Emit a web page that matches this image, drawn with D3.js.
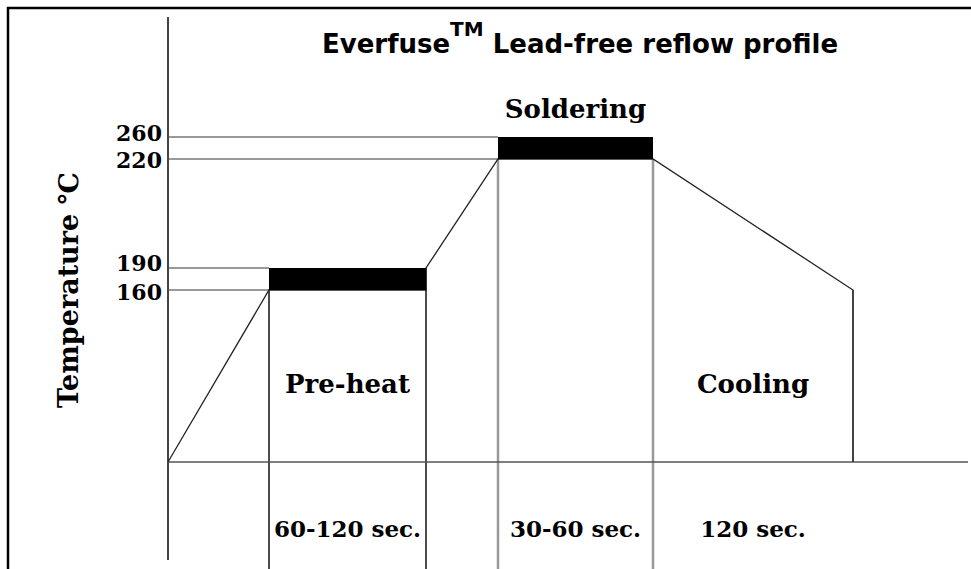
<!DOCTYPE html>
<html>
<head>
<meta charset="utf-8">
<script src="https://cdn.jsdelivr.net/npm/d3@7"></script>
<style>
  body { margin: 0; background: #fff; }
  .serif { font-family: "DejaVu Serif", serif; font-weight: bold; }
  .sans { font-family: "DejaVu Sans", sans-serif; font-weight: bold; }
</style>
</head>
<body>
<script>
// chart values (schematic profile: x is stage boundary index, y is temperature)
const tempTicks = [160, 190, 220, 260];
const profileX = [0, 1, 2, 2, 3, 4, 5, 5];
const profileT = [0, 160, 160, 190, 220, 220, 160, 0];
const barStart = [1, 3];
const barEnd = [2, 4];
const barLow = [160, 220];
const barHigh = [190, 260];
const zoneNames = ["Pre-heat", "Soldering", "Cooling"];
const zoneFrom = [1, 3, 4];
const zoneTo = [2, 4, 5];
const zoneTimes = ["60-120 sec.", "30-60 sec.", "120 sec."];

const W = 971, H = 569;

const svg = d3.select("body")
    .append("svg")
    .attr("width", W)
    .attr("height", H);

// piecewise scales, the original drawing is not to scale
const x = d3.scaleLinear()
    .domain([0, 1, 2, 3, 4, 5, 6])
    .range([168, 269, 426, 498, 653, 853, 968]);

const y = d3.scaleLinear()
    .domain([0, 160, 190, 220, 260])
    .range([462, 290, 268, 159, 137]);

// frame (left + top)
svg.append("path")
    .attr("d", "M8," + H + "V8H" + W)
    .attr("fill", "none")
    .attr("stroke", "#000")
    .attr("stroke-width", 2.5);

// reference lines from the axis to the start of each hold bar
svg.selectAll(".ref")
    .data(tempTicks)
    .enter()
    .append("line")
    .attr("class", "ref")
    .attr("x1", x(0))
    .attr("x2", t => {
        const i = barLow.findIndex((lo, k) => lo === t || barHigh[k] === t);
        return x(barStart[i]);
    })
    .attr("y1", t => y(t))
    .attr("y2", t => y(t))
    .attr("stroke", "#999")
    .attr("stroke-width", 2);

// vertical stage dividers
const dividers = [
    { s: 1, t: 160, col: "#111", w: 1.5, toBase: false },
    { s: 2, t: 190, col: "#111", w: 1.5, toBase: false },
    { s: 3, t: 220, col: "#999", w: 2.5, toBase: false },
    { s: 4, t: 220, col: "#999", w: 2.5, toBase: false },
    { s: 5, t: 160, col: "#333", w: 1.2, toBase: true }
];
svg.selectAll(".div")
    .data(dividers)
    .enter()
    .append("line")
    .attr("class", "div")
    .attr("x1", d => x(d.s))
    .attr("x2", d => x(d.s))
    .attr("y1", d => y(d.t))
    .attr("y2", d => d.toBase ? y(0) : H)
    .attr("stroke", d => d.col)
    .attr("stroke-width", d => d.w);

// y axis line
svg.append("line")
    .attr("x1", x(0)).attr("x2", x(0))
    .attr("y1", 17).attr("y2", 560)
    .attr("stroke", "#444")
    .attr("stroke-width", 2);

// time base line
svg.append("line")
    .attr("x1", x(0)).attr("x2", x(6))
    .attr("y1", y(0)).attr("y2", y(0))
    .attr("stroke", "#555")
    .attr("stroke-width", 1.5);

// profile
const line = d3.line()
    .x(d => x(d[0]))
    .y(d => y(d[1]));
svg.append("path")
    .datum(profileX.map((v, i) => [v, profileT[i]]))
    .attr("d", line)
    .attr("fill", "none")
    .attr("stroke", "#222")
    .attr("stroke-width", 1.3);

// hold bars
svg.selectAll(".bar")
    .data(barStart)
    .enter()
    .append("rect")
    .attr("class", "bar")
    .attr("x", (d, i) => x(d))
    .attr("width", (d, i) => x(barEnd[i]) - x(d))
    .attr("y", (d, i) => y(barHigh[i]))
    .attr("height", (d, i) => y(barLow[i]) - y(barHigh[i]))
    .attr("fill", "#000");

// temperature tick labels, nudged apart like the original
const nudge = { 160: 2, 190: -5, 220: 1, 260: -4 };
const yAxis = d3.axisLeft(y).tickValues(tempTicks).tickSize(0).tickPadding(6);
const gy = svg.append("g")
    .attr("transform", "translate(" + x(0) + ",0)")
    .call(yAxis);
gy.select(".domain").remove();
gy.selectAll("text")
    .attr("class", "serif")
    .attr("fill", "#000")
    .attr("y", d => nudge[d])
    .style("font-size", "22px");

// axis title
svg.append("text")
    .attr("class", "serif")
    .attr("transform", "translate(78,290) rotate(-90)")
    .attr("text-anchor", "middle")
    .style("font-size", "27px")
    .text("Temperature \u2103");

// title
const title = svg.append("text")
    .attr("class", "sans")
    .attr("x", 322)
    .attr("y", 53)
    .style("font-size", "26px");
title.append("tspan").text("Everfuse");
title.append("tspan")
    .attr("dy", -17)
    .style("font-size", "20px")
    .text("TM");
title.append("tspan")
    .attr("dy", 17)
    .text(" Lead-free reflow profile");

// zone names
const nameY = [393, 118, 393];
svg.selectAll(".zname")
    .data(zoneNames)
    .enter()
    .append("text")
    .attr("class", "serif zname")
    .attr("x", (d, i) => (x(zoneFrom[i]) + x(zoneTo[i])) / 2)
    .attr("y", (d, i) => nameY[i])
    .attr("text-anchor", "middle")
    .style("font-size", "26px")
    .text(d => d);

// zone durations
svg.selectAll(".ztime")
    .data(zoneTimes)
    .enter()
    .append("text")
    .attr("class", "serif ztime")
    .attr("x", (d, i) => (x(zoneFrom[i]) + x(zoneTo[i])) / 2)
    .attr("y", 537)
    .attr("text-anchor", "middle")
    .style("font-size", "23px")
    .text(d => d);
</script>
</body>
</html>
